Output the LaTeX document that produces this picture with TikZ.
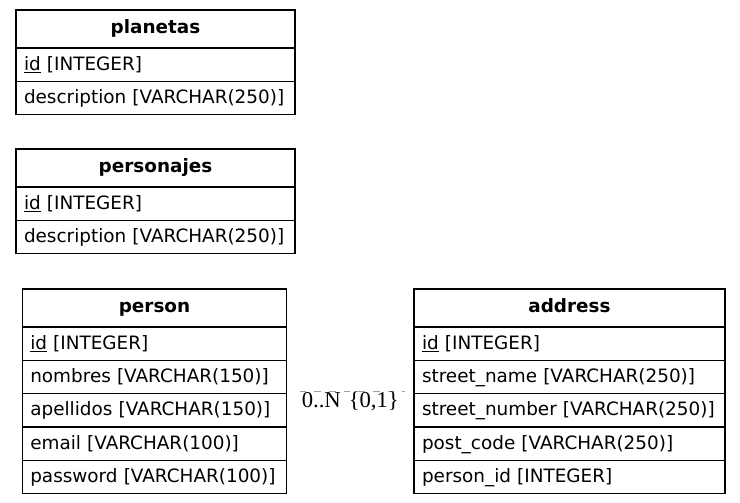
\documentclass[tikz,border=0pt]{standalone}
\usepackage{fontspec}
\setmainfont{DejaVu Sans}
\newfontfamily\cardfont{Liberation Serif}
\usepackage{xcolor}
\usetikzlibrary{positioning,calc}
\definecolor{relgray}{RGB}{160,160,160}

\begin{document}
\begin{tikzpicture}[x=0.75pt, y=-0.75pt,
  every node/.style={font=\fontsize{13.8pt}{17pt}\selectfont, outer sep=0pt},
  tblhead/.style={draw, line width=1pt, text width=#1, inner xsep=6pt, inner ysep=0pt,
    minimum height=28.5pt, text height=10.5pt, text depth=3.3pt, align=center,
    font=\fontsize{13.8pt}{17pt}\selectfont\bfseries},
  tblrow/.style={draw, line width=1pt, text width=#1, inner xsep=6pt, inner ysep=0pt,
    minimum height=25pt, text height=10.5pt, text depth=2.3pt, align=left,
    execute at begin node={\hyphenpenalty=10000}},
  relline/.style={relgray, line width=1pt, dash pattern=on 5pt off 6pt}]
\useasboundingbox (0,0) rectangle (740,503);
% ---- table: planetas
\node[tblhead=197.25pt, anchor=north west] (planetas) at (16,10) {planetas};
\node[tblrow=197.25pt, below=0pt of planetas] (planetasid) {\underline{id} [INTEGER]};
\node[tblrow=197.25pt, below=0pt of planetasid] (planetasdesc) {description [VARCHAR(250)]};
% ---- table: personajes
\node[tblhead=197.25pt, anchor=north west] (personajes) at (16,149) {personajes};
\node[tblrow=197.25pt, below=0pt of personajes] (personajesid) {\underline{id} [INTEGER]};
\node[tblrow=197.25pt, below=0pt of personajesid] (personajesdesc) {description [VARCHAR(250)]};
% ---- table: person
\node[tblhead=186.3pt, anchor=north west] (person) at (22.3,289) {person};
\node[tblrow=186.3pt, below=0pt of person] (personid) {\underline{id} [INTEGER]};
\node[tblrow=186.3pt, below=0pt of personid] (personnom) {nombres [VARCHAR(150)]};
\node[tblrow=186.3pt, below=0pt of personnom] (personape) {apellidos [VARCHAR(150)]};
\node[tblrow=186.3pt, below=0pt of personape] (personmail) {email [VARCHAR(100)]};
\node[tblrow=186.3pt, below=0pt of personmail] (personpwd) {password [VARCHAR(100)]};
% ---- table: address
\node[tblhead=221.25pt, anchor=north west] (address) at (414,289) {address};
\node[tblrow=221.25pt, below=0pt of address] (addressid) {\underline{id} [INTEGER]};
\node[tblrow=221.25pt, below=0pt of addressid] (addressstreet) {street\_name [VARCHAR(250)]};
\node[tblrow=221.25pt, below=0pt of addressstreet] (addressnum) {street\_number [VARCHAR(250)]};
\node[tblrow=221.25pt, below=0pt of addressnum] (addresspost) {post\_code [VARCHAR(250)]};
\node[tblrow=221.25pt, below=0pt of addresspost] (addressperson) {person\_id [INTEGER]};
% ---- relation person -- address
\draw[relline, shorten <=9.75pt, shorten >=7pt]
  ($(person.north east)!.5!(personpwd.south east)$) --
  ($(address.north west)!.5!(addressperson.south west)$)
  node[midway, below=0pt, inner sep=0pt, text=black,
    font=\cardfont\fontsize{17pt}{19pt}\selectfont] (card) {0..N\hspace{0.1em} \{0,1\}};
\end{tikzpicture}
\end{document}
